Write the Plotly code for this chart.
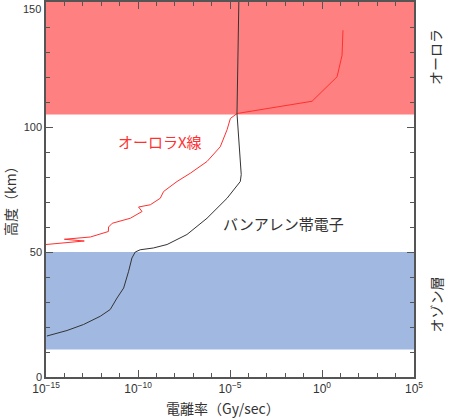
import numpy as np
import plotly.graph_objects as go

# altitude (km) and log10 of ionisation rate (Gy/sec)
vanallen_alt = [150, 126, 105.4, 81, 78.2, 71.5, 63.5, 57, 53, 51.6, 50.9, 50,
                47.6, 42.3, 35.6, 31.6, 27, 24.3, 21, 18.6, 16.4]
vanallen_log = [-4.52, -4.58, -4.62, -4.39, -4.44, -5.16, -6.25, -7.34, -8.42, -9.17, -9.88, -10.15,
                -10.33, -10.51, -10.78, -11.14, -11.51, -12.05, -12.96, -13.86, -14.95]

aurora_alt = [53.0, 54.4, 55.1, 56.0, 58.2, 60.0, 61.5, 63.5, 66.2, 68.0, 68.9, 71.5, 74.2,
              78.2, 81.5, 86.2, 92.1, 98.9, 103.4, 105.0, 105.4, 110.3, 115.4, 120.1, 128.7, 138.7]
aurora_log = [-15.0, -12.92, -14.0, -12.59, -11.61, -11.6, -11.4, -10.42, -9.78, -9.97, -9.33, -8.79, -8.61,
              -7.88, -7.16, -6.25, -5.53, -5.16, -4.98, -4.71, -4.62, -0.54, 0.18, 0.82, 1.09, 1.14]

aurora_band = (105, 150)
ozone_band = (11, 50)

x_major = [-15, -10, -5, 0, 5]
x_labels = ["10<sup>−15</sup>", "10<sup>−10</sup>", "10<sup>−5</sup>", "10<sup>0</sup>", "10<sup>5</sup>"]
y_major = [0, 50, 100, 150]
y_labels = ["0", "50", "100", ""]  # top label drawn below, nudged down so it is not clipped

jp = "Noto Sans CJK JP"

fig = go.Figure()

fig.add_trace(go.Scatter(x=10 ** np.array(aurora_log), y=aurora_alt, mode="lines",
                         line=dict(color="#ff3030", width=1), showlegend=False))
fig.add_trace(go.Scatter(x=10 ** np.array(vanallen_log), y=vanallen_alt, mode="lines",
                         line=dict(color="#333333", width=1), showlegend=False))

# shaded layers
fig.add_shape(type="rect", xref="x domain", yref="y", x0=0, x1=1, y0=aurora_band[0], y1=aurora_band[1],
              fillcolor="#ff8080", line=dict(width=0), layer="below")
fig.add_shape(type="rect", xref="x domain", yref="y", x0=0, x1=1, y0=ozone_band[0], y1=ozone_band[1],
              fillcolor="#a1b9e1", line=dict(width=0), layer="below")

fig.add_annotation(x=-8.79, y=94.2, xref="x", yref="y", text="オーロラX線", showarrow=False,
                   font=dict(family=jp, size=15, color="#ff3030"))
fig.add_annotation(x=-2.08, y=61.6, xref="x", yref="y", text="バンアレン帯電子", showarrow=False,
                   font=dict(family=jp, size=15, color="#333333"))

# right side labels
fig.add_annotation(x=1.09, y=128, xref="paper", yref="y", text="オーロラ", textangle=-90, showarrow=False,
                   font=dict(family=jp, size=14, color="#333333"))
fig.add_annotation(x=1.09, y=29, xref="paper", yref="y", text="オゾン層", textangle=-90, showarrow=False,
                   font=dict(family=jp, size=14, color="#333333"))

# top y tick label
fig.add_annotation(x=0, y=y_major[-1], xref="paper", yref="y", text=str(y_major[-1]), showarrow=False,
                   xanchor="right", yanchor="top", xshift=-3, yshift=1,
                   font=dict(family="Liberation Sans", size=11, color="#333333"))

# axis titles
fig.add_annotation(x=0.482, y=-0.083, xref="paper", yref="paper", text="電離率（Gy/sec）", showarrow=False,
                   yanchor="middle", font=dict(family=jp, size=14, color="#333333"))
fig.add_annotation(x=-0.098, y=0.48, xref="paper", yref="paper", text="高度（km）", textangle=-90,
                   showarrow=False, xanchor="center", font=dict(family=jp, size=14, color="#333333"))

axis_common = dict(showline=True, linecolor="#555555", linewidth=1.5, mirror="allticks",
                   ticks="inside", ticklen=7, tickcolor="#555555", showgrid=False, zeroline=False,
                   automargin=False, ticklabeloverflow="allow",
                   tickfont=dict(family="Liberation Sans", size=11, color="#333333"))

fig.update_xaxes(type="log", range=[-15, 5], tickvals=[10.0 ** v for v in x_major], ticktext=x_labels,
                 minor=dict(tickvals=[10.0 ** v for v in range(-15, 6)], ticklen=4, ticks="inside",
                            tickcolor="#555555"),
                 **axis_common)
fig.update_xaxes(tickfont_size=12)
fig.update_yaxes(range=[0, 150], tickvals=y_major, ticktext=y_labels,
                 minor=dict(tickvals=list(range(0, 151, 10)), ticklen=4, ticks="inside", tickcolor="#555555"),
                 **axis_common)

fig.update_layout(width=450, height=418, template="plotly_white",
                  plot_bgcolor="white", paper_bgcolor="white",
                  margin=dict(l=46, r=36, t=2, b=41))

# drop the browser's default page margin so the figure sits at the window corner
fig.write_html("out.html", config={"displayModeBar": False},
               post_script="document.body.style.margin='0px';")
